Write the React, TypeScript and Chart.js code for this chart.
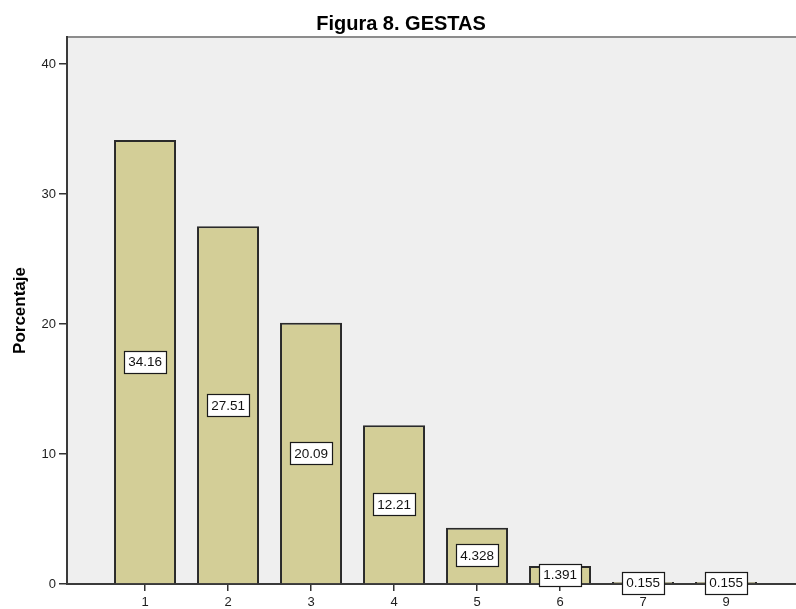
import React, { useEffect, useRef } from "react";
import { Chart, registerables } from "chart.js";

Chart.register(...registerables);

// Number of pregnancies (gestas) and share of patients in each group
const categories: string[] = ["1", "2", "3", "4", "5", "6", "7", "9"];
const percentages: number[] = [34.16, 27.51, 20.09, 12.21, 4.328, 1.391, 0.155, 0.155];
const yTickValues: number[] = [0, 10, 20, 30, 40];

const chartTitle = "Figura 8. GESTAS";
const yAxisTitle = "Porcentaje";

const FONT = "'Liberation Sans', Arial, sans-serif";

// Plot background, top frame line and centred title
const framePlugin = {
  id: "frame",
  beforeDraw(chart: any) {
    const { ctx, chartArea } = chart;
    ctx.save();
    ctx.fillStyle = "#ffffff";
    ctx.fillRect(0, 0, chart.width, chart.height);
    ctx.fillStyle = "#efefef";
    ctx.fillRect(chartArea.left, chartArea.top, chartArea.right - chartArea.left, chartArea.bottom - chartArea.top);
    ctx.strokeStyle = "#8c8c8c";
    ctx.lineWidth = 2;
    ctx.beginPath();
    ctx.moveTo(chartArea.left, chartArea.top);
    ctx.lineTo(chartArea.right, chartArea.top);
    ctx.stroke();
    ctx.restore();
  },
  afterDraw(chart: any) {
    const { ctx } = chart;
    ctx.save();
    ctx.fillStyle = "#000000";
    ctx.font = `bold 20px ${FONT}`;
    ctx.textAlign = "center";
    ctx.textBaseline = "middle";
    ctx.fillText(chartTitle, 401, 24);
    ctx.restore();
  },
};

// Boxed value labels at mid-height of each bar
const valueBoxPlugin = {
  id: "valueBoxes",
  afterDatasetsDraw(chart: any) {
    const { ctx } = chart;
    const meta = chart.getDatasetMeta(0);
    ctx.save();
    ctx.font = `13.5px ${FONT}`;
    ctx.textAlign = "center";
    ctx.textBaseline = "middle";
    meta.data.forEach((bar: any, i: number) => {
      const text = String(percentages[i]);
      const cx = bar.x;
      const cy = (bar.y + bar.base) / 2;
      const w = Math.round(ctx.measureText(text).width + 8);
      const h = 22;
      const x0 = Math.round(cx - w / 2) + 0.5;
      const y0 = Math.round(cy - h / 2) + 0.5;
      ctx.fillStyle = "#ffffff";
      ctx.fillRect(x0, y0, w, h);
      ctx.strokeStyle = "#1a1a1a";
      ctx.lineWidth = 1.2;
      ctx.strokeRect(x0, y0, w, h);
      ctx.fillStyle = "#111111";
      ctx.fillText(text, cx, cy + 1);
    });
    ctx.restore();
  },
};

export default function App() {
  const canvasRef = useRef<HTMLCanvasElement | null>(null);

  useEffect(() => {
    document.body.style.margin = "0";
    const canvas = canvasRef.current;
    if (!canvas) return;

    const points = percentages.map((v, i) => ({ x: i + 1, y: v }));

    const chart = new Chart(canvas, {
      type: "bar",
      data: {
        datasets: [
          {
            data: points as any,
            backgroundColor: "#d3ce97",
            borderColor: "#2a2a2a",
            borderWidth: 2,
            barPercentage: 0.747,
            categoryPercentage: 1,
          },
        ],
      },
      options: {
        animation: false,
        responsive: false,
        events: [],
        layout: { padding: { top: 37, left: 0, right: 0, bottom: 0 } },
        plugins: {
          legend: { display: false },
          tooltip: { enabled: false },
          title: { display: false },
        },
        scales: {
          x: {
            type: "linear",
            offset: false,
            min: 0.06,
            max: 8.843,
            grid: {
              display: true,
              offset: false,
              drawOnChartArea: false,
              drawTicks: true,
              tickLength: 7,
              color: "#333333",
              lineWidth: 1.5,
            },
            border: { display: true, color: "#3a3a3a", width: 2 },
            ticks: {
              stepSize: 1,
              autoSkip: false,
              maxRotation: 0,
              padding: 4,
              color: "#1e1e1e",
              font: { family: FONT, size: 13 },
              callback: (value: any) => categories[Number(value) - 1] ?? "",
            },
            afterBuildTicks: (scale: any) => {
              scale.ticks = categories.map((_, i) => ({ value: i + 1 }));
            },
            afterFit: (scale: any) => {
              scale.height = 25;
            },
          },
          y: {
            type: "linear",
            min: 0,
            max: 42.077,
            grid: {
              display: true,
              drawOnChartArea: false,
              drawTicks: true,
              tickLength: 8,
              color: "#333333",
              lineWidth: 1.5,
            },
            border: { display: true, color: "#3a3a3a", width: 2 },
            ticks: {
              padding: 3,
              color: "#1e1e1e",
              font: { family: FONT, size: 13 },
            },
            afterBuildTicks: (scale: any) => {
              scale.ticks = yTickValues.map((v) => ({ value: v }));
            },
            title: {
              display: true,
              text: yAxisTitle,
              color: "#000000",
              font: { family: FONT, size: 17, weight: "bold" },
              padding: { top: 10, bottom: 0 },
            },
            afterFit: (scale: any) => {
              scale.width = 67;
            },
          },
        },
      },
      plugins: [framePlugin, valueBoxPlugin],
    });

    return () => chart.destroy();
  }, []);

  return (
    <div style={{ width: 796, height: 609 }}>
      <canvas ref={canvasRef} width={796} height={609} style={{ display: "block" }} />
    </div>
  );
}
